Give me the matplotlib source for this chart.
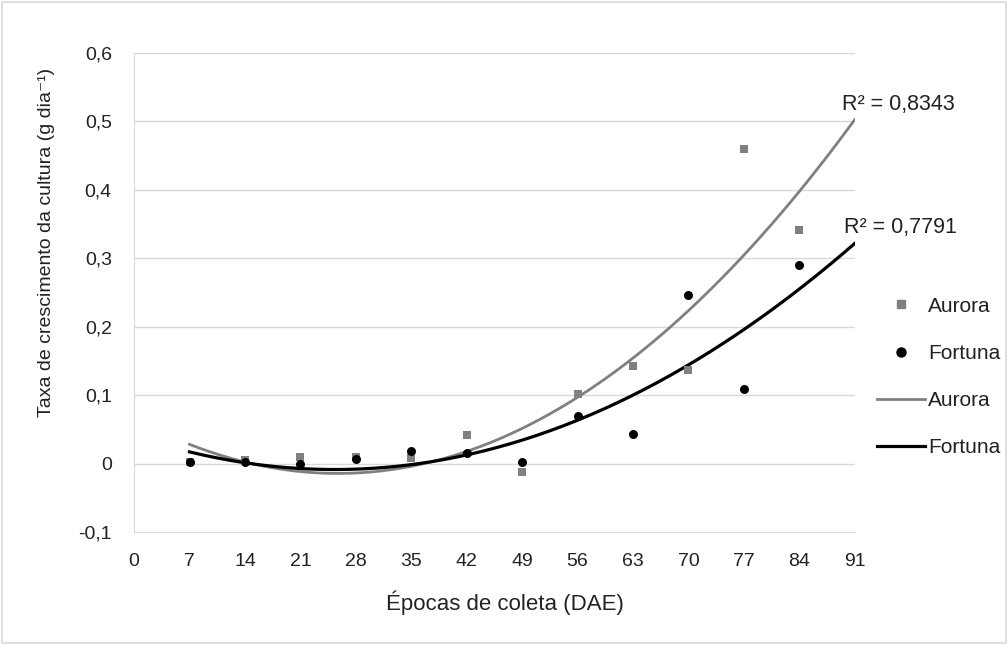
import numpy as np
import matplotlib
matplotlib.use("Agg")
import matplotlib.pyplot as plt
from matplotlib.lines import Line2D
from matplotlib.patches import Rectangle

plt.rcParams["font.family"] = ["Liberation Sans", "DejaVu Sans"]

# data
dae = [7, 14, 21, 28, 35, 42, 49, 56, 63, 70, 77, 84]
aurora = [0.002, 0.005, 0.010, 0.010, 0.008, 0.042, -0.012, 0.102, 0.143, 0.137, 0.460, 0.341]
fortuna = [0.002, 0.003, -0.001, 0.007, 0.019, 0.015, 0.003, 0.070, 0.044, 0.247, 0.109, 0.290]
r2_labels = ["R² = 0,8343", "R² = 0,7791"]
xticks = list(range(0, 92, 7))
yticks = [-0.1, 0, 0.1, 0.2, 0.3, 0.4, 0.5, 0.6]

c_aur = "#808080"
c_for = "#000000"
c_txt = "#222222"

fig = plt.figure(figsize=(10.08, 6.45), dpi=100)
ax = fig.add_axes([0.133, 0.175, 0.715, 0.743])

# Excel-style 2nd order trendlines, forward-extended to 91
xs = np.linspace(7, 91, 200)
pa = np.polyfit(dae, aurora, 2)
pf = np.polyfit(dae, fortuna, 2)
ax.plot(xs, np.polyval(pa, xs), color=c_aur, lw=2, zorder=2)
ax.plot(xs, np.polyval(pf, xs), color=c_for, lw=2.3, zorder=2)

ax.scatter(dae, aurora, marker="s", s=40, color=c_aur, zorder=3, linewidths=0)
ax.scatter(dae, fortuna, marker="o", s=42, color=c_for, zorder=4, linewidths=0)

ax.set_xlim(0, 91)
ax.set_ylim(-0.1, 0.6)
ax.set_xticks(xticks)
ax.set_xticklabels([str(t) for t in xticks], fontsize=14, color=c_txt)
ax.set_yticks(yticks)
ax.set_yticklabels([f"{t:.1f}".replace(".", ",") if t != 0 else "0" for t in yticks],
                   fontsize=14, color=c_txt)
ax.tick_params(axis="x", length=0, pad=15)
ax.tick_params(axis="y", length=0, pad=16)
ax.yaxis.grid(True, color="#d9d9d9", lw=1)
ax.set_axisbelow(True)
for s in ["top", "right"]:
    ax.spines[s].set_visible(False)
for s in ["left", "bottom"]:
    ax.spines[s].set_color("#d9d9d9")

ax.set_xlabel("Épocas de coleta (DAE)", fontsize=16, color=c_txt)
ax.xaxis.set_label_coords(0.514, -0.148)
ax.xaxis.label.set_va("center")
ax.set_ylabel("Taxa de crescimento da cultura (g dia⁻¹)", fontsize=14, color=c_txt)
ax.yaxis.set_label_coords(-0.121, 0.605)
ax.yaxis.label.set_va("center")

ax.text(89.4, 0.517, r2_labels[0], fontsize=15.5, color=c_txt,
        ha="left", va="baseline", clip_on=False)
ax.text(89.6, 0.3376, r2_labels[1], fontsize=15.5, color=c_txt,
        ha="left", va="baseline", clip_on=False)

handles = [
    Line2D([], [], ls="none", marker="s", color=c_aur, markersize=6),
    Line2D([], [], ls="none", marker="o", color=c_for, markersize=6.5),
    Line2D([], [], color=c_aur, lw=2),
    Line2D([], [], color=c_for, lw=2.3),
]
leg = fig.legend(handles, ["Aurora", "Fortuna", "Aurora", "Fortuna"],
                 loc="upper left", bbox_to_anchor=(0.870, 0.540), frameon=False,
                 borderpad=0, borderaxespad=0,
                 fontsize=15, handlelength=2.3, handletextpad=0.15, labelspacing=1.35)
for t in leg.get_texts():
    t.set_color(c_txt)

fig.patches.append(Rectangle((0.002, 0.003), 0.996, 0.994, transform=fig.transFigure,
                             fill=False, ec="#d9d9d9", lw=1.2))

fig.savefig("out.png", dpi=100)
